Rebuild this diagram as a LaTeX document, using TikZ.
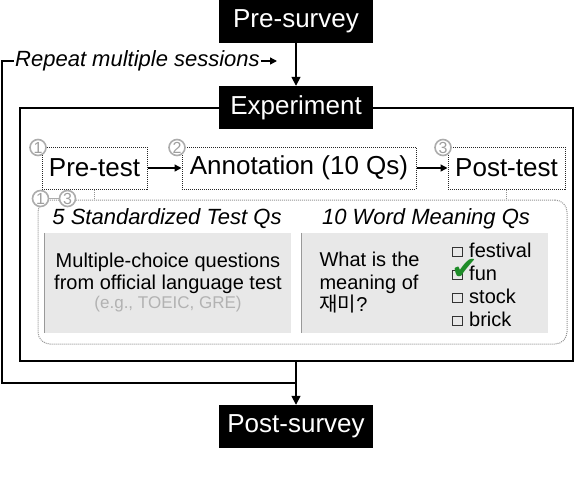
\documentclass[tikz,border=0pt]{standalone}
\usepackage{fontspec}
\setmainfont{Liberation Sans}
\newfontfamily\kofont{Noto Sans CJK KR}
\newfontfamily\symfont{DejaVu Sans}
\usepackage{xcolor}
\usetikzlibrary{arrows.meta}
\definecolor{panelgray}{HTML}{E8E8E8}
\definecolor{checkgreen}{HTML}{1E8C28}

\begin{document}
\begin{tikzpicture}[x=1pt,y=-1pt,
    stage/.style={fill=black,text=white,minimum width=154pt,minimum height=43pt,inner sep=0pt,font=\fontsize{26}{30}\selectfont},
    phase/.style={draw=black!85,densely dotted,line width=1pt,minimum height=42pt,inner sep=0pt,font=\fontsize{26}{30}\selectfont},
    num/.style={circle,draw=gray!65,fill=white,text=gray!75,line width=1.6pt,minimum size=16pt,inner sep=0pt,font=\fontsize{16}{16}\selectfont},
    flow/.style={line width=1.6pt,-{Triangle[length=9pt,width=9pt]}},
    link/.style={line width=1.4pt,-{Triangle[length=7pt,width=7pt]}},
    loop/.style={line width=2pt},
    panel/.style={fill=panelgray,minimum width=246pt,minimum height=100pt,inner sep=0pt},
    qtitle/.style={font=\itshape\fontsize{22}{26}\selectfont},
    chkbox/.style={draw=black!80,line width=0.7pt,minimum size=9.5pt,inner sep=0pt}]
    \useasboundingbox (0,0) rectangle (574,482);
    % frame
        \draw[line width=2pt] (20,108) rectangle (573,361);
        \coordinate (framebot) at (296,361);
    % stages
        \node[stage] (presurvey) at (296,21.5) {Pre-survey};
        \node[stage] (experiment) at (296,107.5) {Experiment};
        \node[stage] (postsurvey) at (296,426.5) {Post-survey};
        \draw[flow] (presurvey) -- (experiment);
        \draw[flow] (framebot) -- (postsurvey.north);
    % repeat loop
        \node[qtitle,anchor=west,inner sep=1pt] (repeat) at (14,61) {Repeat multiple sessions};
        \coordinate (join) at (296,383);
        \coordinate (loopbl) at (2,383);
        \coordinate (looptl) at (2,61);
        \coordinate (rptend) at (277,61);
        \draw[loop] (join) -- (loopbl) -- (looptl) -- (repeat.west);
        \draw[link] (repeat.east) -- (rptend);
    % phases
        \node[phase,minimum width=105pt] (pretest) at (94.5,168) {Pre-test};
        \node[phase,minimum width=234pt] (annot) at (299,168) {Annotation (10 Qs)};
        \node[phase,minimum width=117pt] (posttest) at (506.5,168) {Post-test};
        \draw[link] (pretest.east) -- (annot.west);
        \draw[link] (annot.east) -- (posttest.west);
        \node[num] (n1) at (38,147.5) {1};
        \node[num] (n2) at (177,147.5) {2};
        \node[num] (n3) at (443,147.5) {3};
    % questions box
        \node[draw=gray!85,densely dotted,line width=1pt,rounded corners=12pt,minimum width=529pt,minimum height=144pt] (qbox) at (302.5,272) {};
        \draw[gray!85,densely dotted,line width=1pt] (pretest.south) -- (pretest.south |- qbox.north);
        \draw[gray!85,densely dotted,line width=1pt] (posttest.south) -- (posttest.south |- qbox.north);
        \node[num] (m1) at (40.5,198.5) {1};
        \node[num] (m3) at (67.5,198.5) {3};
        \draw[gray!65,line width=1.6pt] (m1) -- (m3);
        \node[qtitle] (stdtitle) at (167,219) {5 Standardized Test Qs};
        \node[qtitle] (wordtitle) at (426,219) {10 Word Meaning Qs};
    % left panel
        \node[panel] (lpanel) at (168,283) {};
        \draw[gray!80,line width=1pt] (lpanel.north west) -- (lpanel.south west);
        \node[align=center,font=\fontsize{20}{21.5}\selectfont] (ltext) at (168,273.5) {Multiple-choice questions\\from official language test};
        \node[text=gray!60,font=\fontsize{17}{20}\selectfont] (lex) at (168,304) {(e.g., TOEIC, GRE)};
    % right panel
        \node[panel] (rpanel) at (425,283) {};
        \draw[gray!80,line width=1pt] (rpanel.north west) -- (rpanel.south west);
        \node[anchor=west,align=left,font=\fontsize{20}{22.5}\selectfont] (rtext) at (316,283) {What is the\\meaning of\\{\kofont 재미}?};
        \foreach \by/\w in {257/festival,280/fun,303/stock,326/brick}{
            \node[chkbox,anchor=south west] (box\w) at (452,\by) {};
            \node[anchor=base west,inner sep=0pt,font=\fontsize{20}{22}\selectfont] (opt\w) at (469,\by) {\w};
        }
        \node[text=checkgreen,font=\symfont\fontsize{32}{32}\selectfont,inner sep=0pt] (tick) at (465,269) {✔};
\end{tikzpicture}
\end{document}
